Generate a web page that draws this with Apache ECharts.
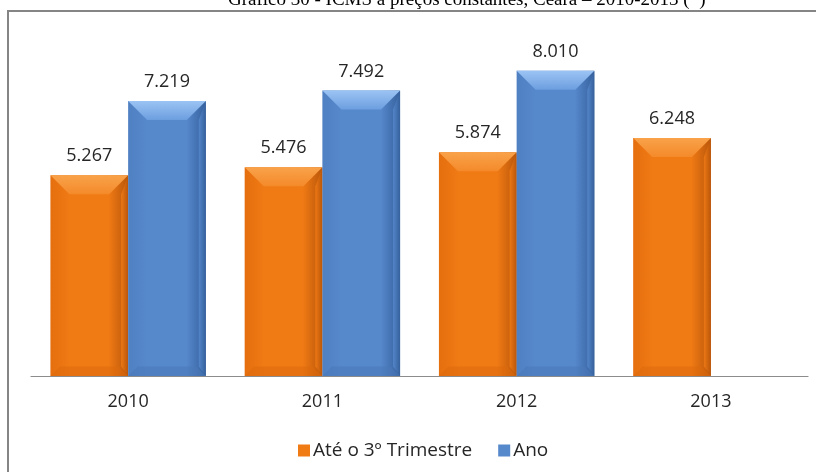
<!DOCTYPE html>
<html>
<head>
<meta charset="utf-8">
<script src="https://cdn.jsdelivr.net/npm/echarts@6/dist/echarts.min.js"></script>
<style>
  html, body { margin: 0; padding: 0; background: #fff; }
  #chart { width: 816px; height: 472px; }
</style>
</head>
<body>
<div id="chart"></div>
<script>
// ICMS collected at constant prices (R$ million), Ceará
const years = ['2010', '2011', '2012', '2013'];
const ateTerceiroTrimestre = [5267, 5476, 5874, 6248];
const anoCompleto = [7219, 7492, 8010, null];
const seriesNames = ['Até o 3º Trimestre', 'Ano'];
const titleText = 'Gráfico 30 - ICMS a preços constantes, Ceará – 2010-2013 (*)';

const palettes = [
  { face: '#f07a14', light: '#f9a24a', lightEnd: '#f48a2a', dark: '#b9560a', bottom: '#dc6a0c', left: '#e56e0e' },
  { face: '#5688cc', light: '#9cc4f4', lightEnd: '#6c9edf', dark: '#35609c', bottom: '#4a78b8', left: '#4f80c2' }
];

function fmt(v) {
  return String(v).replace(/\B(?=(\d{3})+(?!\d))/g, '.');
}

function bevelBar(seriesIdx) {
  const p = palettes[seriesIdx];
  return function (params, api) {
    const val = api.value(1);
    if (val == null || isNaN(val)) return null;
    const cat = api.value(0);
    const base = api.coord([cat, 0]);
    const top = api.coord([cat, val]);
    const band = api.size([1, 0])[0];
    const bw = band * 0.4;
    const x0 = base[0] - bw + seriesIdx * bw;
    const x1 = x0 + bw;
    const y0 = top[1];
    const y1 = base[1];
    const b = Math.min(19, (y1 - y0) / 2);
    const edge = 7;
    const lin = (stops, horiz) => new echarts.graphic.LinearGradient(0, 0, horiz ? 1 : 0, horiz ? 0 : 1,
      stops.map((c, i) => ({ offset: i / (stops.length - 1), color: c })));
    return {
      type: 'group',
      children: [
        { type: 'rect', shape: { x: x0, y: y0, width: bw, height: y1 - y0 },
          style: { fill: lin([p.left, p.face, p.face, p.face, p.dark], true) } },
        // right shaded edge
        { type: 'polygon', shape: { points: [[x1 - edge, y0 + b], [x1, y0], [x1, y1], [x1 - edge, y1 - b * 0.5]] },
          style: { fill: lin([p.face, p.dark], true), opacity: 0.9 } },
        // bottom bevel
        { type: 'polygon', shape: { points: [[x0, y1], [x1, y1], [x1 - b * 0.5, y1 - b * 0.5], [x0 + b * 0.5, y1 - b * 0.5]] },
          style: { fill: p.bottom, opacity: 0.55 } },
        // top bevel
        { type: 'polygon', shape: { points: [[x0, y0], [x1, y0], [x1 - b, y0 + b], [x0 + b, y0 + b]] },
          style: { fill: lin([p.light, p.lightEnd], false) } },
        { type: 'text', x: (x0 + x1) / 2, y: y0 - 10,
          style: { text: fmt(val), fill: '#262626', font: '18px "Open Sans"', align: 'center', verticalAlign: 'bottom' } }
      ]
    };
  };
}

function seriesData(values) {
  return values.map((v, i) => [i, v]);
}

const chart = echarts.init(document.getElementById('chart'), null, { renderer: 'canvas' });
chart.setOption({
  animation: false,
  backgroundColor: '#ffffff',
  graphic: [
    { type: 'rect', shape: { x: 8, y: 11, width: 900, height: 600 },
      style: { fill: 'none', stroke: '#858585', lineWidth: 2 } },
    { type: 'text', left: 228, top: -9,
      style: { text: titleText, fill: '#000', font: '19px "Liberation Serif"' } }
  ],
  legend: {
    top: 436,
    left: 293,
    itemWidth: 12,
    itemHeight: 12,
    itemGap: 26,
    icon: 'rect',
    textStyle: { fontFamily: 'Open Sans', fontSize: 19, color: '#262626', padding: [0, 0, 0, -2] },
    data: seriesNames
  },
  grid: { left: 31, right: 8, top: 33, bottom: 96 },
  xAxis: {
    type: 'category',
    data: years,
    axisLine: { lineStyle: { color: '#8c8c8c', width: 1.2 } },
    axisTick: { show: false },
    axisLabel: { fontFamily: 'Open Sans', fontSize: 18, color: '#262626', margin: 17 }
  },
  yAxis: {
    type: 'value', min: 0, max: 9000, interval: 1000,
    show: false,
    splitLine: { show: false }
  },
  series: [0, 1].map(s => ({
    name: seriesNames[s],
    type: 'custom',
    renderItem: bevelBar(s),
    itemStyle: { color: palettes[s].face },
    encode: { x: 0, y: 1 },
    data: seriesData(s === 0 ? ateTerceiroTrimestre : anoCompleto)
  }))
});
</script>
</body>
</html>
